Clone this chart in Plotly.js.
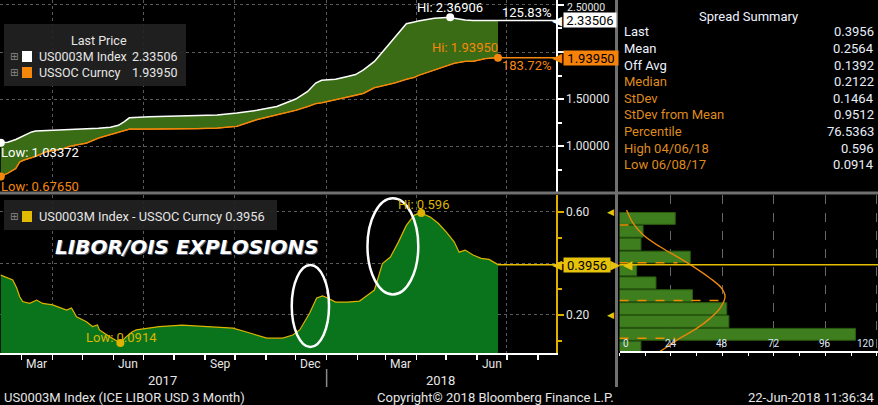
<!DOCTYPE html>
<html><head><meta charset="utf-8">
<script src="https://cdn.plot.ly/plotly-3.0.1.min.js"></script>
<style>html,body{margin:0;padding:0;background:#000;}#chart{width:878px;height:405px;}</style>
</head><body><div id="chart"></div>
<script>
// ---------- data ----------
const topDates = ['2017-02-08','2017-02-15','2017-02-23','2017-02-27','2017-03-03','2017-03-11','2017-03-15','2017-03-26','2017-04-11','2017-04-19','2017-05-05','2017-05-17','2017-05-29','2017-06-06','2017-06-12','2017-06-17','2017-07-07','2017-08-04','2017-08-24','2017-09-13','2017-10-03','2017-10-23','2017-11-12','2017-12-01','2017-12-13','2017-12-21','2017-12-27','2018-01-10','2018-01-22','2018-01-30','2018-02-07','2018-02-18','2018-02-22','2018-03-06','2018-03-10','2018-03-22','2018-03-30','2018-04-03','2018-04-19','2018-05-05','2018-05-09','2018-05-20','2018-05-28','2018-06-05','2018-06-09','2018-06-22'];
const liborVals = [1.03372,1.04,1.07,1.09,1.117,1.15,1.16,1.165,1.17,1.175,1.185,1.19,1.20,1.22,1.26,1.30,1.31,1.32,1.325,1.33,1.35,1.38,1.42,1.50,1.58,1.67,1.70,1.71,1.74,1.76,1.81,1.90,1.95,2.10,2.16,2.30,2.32,2.33,2.36,2.36906,2.36,2.34,2.335,2.33,2.335,2.33506];
const oisVals = [0.6765,0.71,0.76,0.83,0.85,0.88,0.89,0.94,0.97,1.0,1.03,1.085,1.12,1.15,1.165,1.18,1.18,1.18,1.185,1.19,1.21,1.28,1.33,1.38,1.42,1.45,1.46,1.49,1.52,1.54,1.56,1.62,1.63,1.66,1.67,1.71,1.73,1.75,1.81,1.87,1.88,1.90,1.90,1.92,1.93,1.9395];

const spreadDates = ['2017-02-08','2017-02-14','2017-02-20','2017-02-24','2017-02-27','2017-03-02','2017-03-09','2017-03-16','2017-03-22','2017-04-01','2017-04-15','2017-04-20','2017-04-25','2017-05-05','2017-05-11','2017-05-16','2017-05-18','2017-05-28','2017-06-08','2017-06-14','2017-06-20','2017-06-24','2017-07-17','2017-08-09','2017-09-02','2017-09-29','2017-10-16','2017-11-02','2017-11-18','2017-11-28','2017-12-05','2017-12-15','2017-12-22','2017-12-28','2018-01-02','2018-01-10','2018-01-22','2018-02-03','2018-02-11','2018-02-18','2018-02-26','2018-03-06','2018-03-14','2018-03-22','2018-03-30','2018-04-06','2018-04-15','2018-04-23','2018-05-01','2018-05-09','2018-05-14','2018-05-20','2018-05-28','2018-06-05','2018-06-13','2018-06-22'];
const spreadVals = [0.355,0.346,0.336,0.305,0.271,0.252,0.245,0.258,0.245,0.239,0.219,0.227,0.193,0.174,0.155,0.161,0.142,0.116,0.0914,0.116,0.135,0.142,0.155,0.161,0.155,0.149,0.13,0.11,0.11,0.122,0.142,0.208,0.266,0.274,0.266,0.25,0.25,0.254,0.277,0.297,0.40,0.425,0.483,0.548,0.588,0.596,0.58,0.556,0.523,0.484,0.444,0.452,0.433,0.42,0.416,0.3956];

const histCenters = [0.575,0.525,0.475,0.425,0.375,0.325,0.275,0.225,0.175,0.125,0.075];
const histCounts  = [26,11,10,33,8,17,34,50,51,110,10];
const histTicks   = [0,24,48,72,96,120];
const curveVals   = [0.608,0.556,0.511,0.465,0.420,0.388,0.343,0.304,0.271,0.226,0.187,0.148,0.110,0.071,0.057];
const curveCounts = [3.3,6.4,11.1,18.9,28.2,34.4,42.2,47.6,49.2,46.8,42.2,36.0,28.2,21.2,18.5];
const statLevels  = [0.5492,0.4028,0.2564,0.1100];
const statLens    = [6,27,49,26];

const summaryLabels = ['Last','Mean','Off Avg','Median','StDev','StDev from Mean','Percentile','High 04/06/18','Low 06/08/17'];
const summaryValues = ['0.3956','0.2564','0.1392','0.2122','0.1464','0.9512','76.5363','0.596','0.0914'];

const monthLabels = ['Mar','Jun','Sep','Dec','Mar','Jun'];
const monthLabelDates = ['2017-03-16','2017-06-16','2017-09-16','2017-12-16','2018-03-16','2018-06-16'];
const yearLabels = ['2017','2018'];
const yearLabelDates = ['2017-07-20','2018-04-25'];
const pctLabels = ['125.83%','183.72%'];

// ---------- helpers ----------
const W = 878, H = 405;
const px = v => v / W;
const py = v => 1 - v / H;
const last = a => a[a.length - 1];
const argmax = a => a.indexOf(Math.max(...a));
const argmin = a => a.indexOf(Math.min(...a));

const WHITE = '#ffffff', ORANGE = '#f5870c', YELLOW = '#dcb400', TXT = '#e6e6e6';
const FONT = 'Roboto, "Liberation Sans", sans-serif';
const xRange = ['2017-02-07 05:00', '2018-08-19 05:00'];

const liMax = argmax(liborVals), liMin = argmin(liborVals);
const oiMax = argmax(oisVals), oiMin = argmin(oisVals);
const spMax = argmax(spreadVals), spMin = argmin(spreadVals);

const traces = [
  {x: topDates, y: oisVals, type: 'scatter', mode: 'lines', line: {color: ORANGE, width: 1.2}, xaxis: 'x', yaxis: 'y'},
  {x: topDates, y: liborVals, type: 'scatter', mode: 'lines', fill: 'tonexty', fillcolor: '#3a6c15', line: {color: WHITE, width: 1.5}, xaxis: 'x', yaxis: 'y'},
  {x: topDates, y: oisVals, type: 'scatter', mode: 'lines', line: {color: ORANGE, width: 1.3}, xaxis: 'x', yaxis: 'y'},
  {x: [topDates[liMin], topDates[liMax]], y: [liborVals[liMin], liborVals[liMax]], type: 'scatter', mode: 'markers', marker: {color: WHITE, size: 8}, xaxis: 'x', yaxis: 'y'},
  {x: [topDates[oiMin], topDates[oiMax]], y: [oisVals[oiMin], oisVals[oiMax]], type: 'scatter', mode: 'markers', marker: {color: ORANGE, size: 8}, xaxis: 'x', yaxis: 'y'},
  {x: spreadDates, y: spreadVals, type: 'scatter', mode: 'lines', fill: 'tozeroy', fillcolor: '#0a741c', line: {color: YELLOW, width: 1.2}, xaxis: 'x2', yaxis: 'y2'},
  {x: [spreadDates[spMin], spreadDates[spMax]], y: [spreadVals[spMin], spreadVals[spMax]], type: 'scatter', mode: 'markers', marker: {color: YELLOW, size: 8}, xaxis: 'x2', yaxis: 'y2'},
  {x: histCounts, y: histCenters, type: 'bar', orientation: 'h', width: 0.046, marker: {color: '#3e7e1e', line: {color: '#2a5c10', width: 1}}, xaxis: 'x3', yaxis: 'y3'},
  {x: curveCounts, y: curveVals, type: 'scatter', mode: 'lines', line: {color: '#e8860c', width: 1.4, shape: 'spline'}, xaxis: 'x3', yaxis: 'y3'}
];
statLevels.forEach((lv, i) => traces.push({x: [0, statLens[i]], y: [lv, lv], type: 'scatter', mode: 'lines', line: {color: '#f08c00', width: 1.5, dash: 'dash'}, xaxis: 'x3', yaxis: 'y3'}));

const gridCol = '#5a5a5a';
const layout = {
  width: W, height: H, margin: {l: 0, r: 0, t: 0, b: 0},
  paper_bgcolor: '#000', plot_bgcolor: '#000', showlegend: false, hovermode: false,
  font: {family: FONT, color: TXT, size: 12},
  xaxis: {domain: [0, px(556)], range: xRange, type: 'date', anchor: 'y', showticklabels: false, ticks: '',
          tickmode: 'linear', tick0: '2017-01-01', dtick: 'M3', showgrid: true, gridcolor: gridCol, griddash: 'dot', zeroline: false, showline: false},
  yaxis: {domain: [py(192), 1], range: [0.511, 2.553], side: 'right', anchor: 'x', showline: true, linecolor: WHITE, linewidth: 1.5,
          tickmode: 'array', tickvals: [1, 1.5, 2, 2.5], ticktext: ['1.00000', '1.50000', '', ''],
          ticks: 'outside', ticklen: 6, tickwidth: 2, tickcolor: WHITE, tickfont: {size: 12, color: TXT},
          minor: {tickmode: 'linear', tick0: 0, dtick: 0.25, ticks: 'outside', ticklen: 4, tickcolor: WHITE, showgrid: false},
          showgrid: true, gridcolor: gridCol, griddash: 'dot', zeroline: false},
  xaxis2: {domain: [0, px(556)], range: xRange, type: 'date', anchor: 'y2', showticklabels: false,
           tickmode: 'linear', tick0: '2017-01-01', dtick: 'M3', ticks: 'outside', ticklen: 5, tickcolor: WHITE, tickwidth: 1.5,
           minor: {tickmode: 'linear', tick0: '2017-01-01', dtick: 'M1', ticks: 'outside', ticklen: 5, tickcolor: WHITE, showgrid: false},
           showline: true, linecolor: WHITE, linewidth: 2, showgrid: true, gridcolor: gridCol, griddash: 'dot', zeroline: false},
  yaxis2: {domain: [py(353), py(195)], range: [0.0524, 0.666], side: 'right', anchor: 'x2', showline: true, linecolor: '#e0b000', linewidth: 1.5,
           tickmode: 'array', tickvals: [0.2, 0.4, 0.6], ticktext: ['0.20', '', '0.60'],
           ticks: 'outside', ticklen: 6, tickwidth: 2, tickcolor: '#e0b000', tickfont: {size: 12, color: TXT},
           minor: {tickmode: 'linear', tick0: 0, dtick: 0.1, ticks: 'outside', ticklen: 4, tickcolor: '#e0b000', showgrid: false},
           showgrid: true, gridcolor: gridCol, griddash: 'dot', zeroline: false},
  xaxis3: {domain: [px(619.5), 1], range: [0, 120.5], anchor: 'y3', showline: true, linecolor: WHITE, linewidth: 1.5,
           tickmode: 'array', tickvals: histTicks, ticks: '', showticklabels: false,
           minor: {tickmode: 'linear', tick0: 0, dtick: 12, ticks: 'outside', ticklen: 3, tickcolor: WHITE, showgrid: false},
           showgrid: true, gridcolor: '#666', griddash: 'dash', zeroline: false},
  yaxis3: {domain: [py(351), py(195)], range: [0.0602, 0.666], anchor: 'x3', visible: false},
  shapes: [], annotations: []
};

const S = layout.shapes, A = layout.annotations;
// panel dividers
S.push({type: 'line', xref: 'paper', yref: 'paper', x0: 0, x1: 1, y0: py(193), y1: py(193), line: {color: '#707070', width: 3}});
S.push({type: 'line', xref: 'paper', yref: 'paper', x0: px(616.5), x1: px(616.5), y0: py(387), y1: 1, line: {color: '#707070', width: 3}});
// year divider
S.push({type: 'line', xref: 'x2', yref: 'paper', x0: '2018-01-01', x1: '2018-01-01', y0: py(369), y1: py(387), line: {color: '#8a8a8a', width: 1.5}});
// last value level lines
S.push({type: 'line', xref: 'x', yref: 'y', x0: last(topDates), x1: xRange[1], y0: last(liborVals), y1: last(liborVals), line: {color: WHITE, width: 1.5}});
S.push({type: 'line', xref: 'x', yref: 'y', x0: last(topDates), x1: xRange[1], y0: last(oisVals), y1: last(oisVals), line: {color: ORANGE, width: 1.5}});
S.push({type: 'line', xref: 'x2', yref: 'y2', x0: last(spreadDates), x1: xRange[1], y0: last(spreadVals), y1: last(spreadVals), line: {color: '#e6bc00', width: 1.5}});
S.push({type: 'line', xref: 'x3 domain', yref: 'y3', x0: 0, x1: 1, y0: last(spreadVals), y1: last(spreadVals), line: {color: '#e6bc00', width: 1.5}});
// ellipses
S.push({type: 'circle', xref: 'x2', yref: 'y2', x0: '2017-11-27', x1: '2018-01-03 10:00', y0: 0.076, y1: 0.394, line: {color: WHITE, width: 2.5}});
S.push({type: 'circle', xref: 'x2', yref: 'y2', x0: '2018-02-11', x1: '2018-04-03', y0: 0.280, y1: 0.653, line: {color: WHITE, width: 2.5}});
// legend boxes
S.push({type: 'rect', xref: 'paper', yref: 'paper', x0: px(4), x1: px(186), y0: py(86), y1: py(24), fillcolor: 'rgba(34,34,34,0.92)', line: {width: 0}, layer: 'above'});
S.push({type: 'rect', xref: 'paper', yref: 'paper', x0: px(4), x1: px(277), y0: py(230), y1: py(200), fillcolor: 'rgba(34,34,34,0.92)', line: {width: 0}, layer: 'above'});
S.push({type: 'rect', xref: 'paper', yref: 'paper', x0: px(22), x1: px(32), y0: py(62), y1: py(51), fillcolor: WHITE, line: {width: 0}});
S.push({type: 'rect', xref: 'paper', yref: 'paper', x0: px(22), x1: px(32), y0: py(78), y1: py(67), fillcolor: ORANGE, line: {width: 0}});
S.push({type: 'rect', xref: 'paper', yref: 'paper', x0: px(22), x1: px(32), y0: py(222), y1: py(211), fillcolor: '#e2bc00', line: {width: 0}});

const ann = (o) => A.push(Object.assign({showarrow: false, font: {family: FONT, size: 13, color: TXT}}, o));
const P = (x, y, text, xa, color, size, extra) => ann(Object.assign({xref: 'paper', yref: 'paper', x: px(x), y: py(y), text, xanchor: xa, yanchor: 'middle', font: {family: FONT, size: size || 13, color: color || TXT}}, extra || {}));
const BOXG = {family: 'DejaVu Sans', size: 10, color: '#8a8a8a'};

// top legend
P(99, 40, 'Last Price', 'center', TXT, 12.5);
P(14, 56, '⊞', 'center', '#8a8a8a', 10, {font: BOXG});
P(14, 72, '⊞', 'center', '#8a8a8a', 10, {font: BOXG});
P(37, 56, 'US0003M Index', 'left', TXT, 12.5);
P(179, 56, last(liborVals).toFixed(5), 'right', TXT, 12.5);
P(37, 72, 'USSOC Curncy', 'left', TXT, 12.5);
P(179, 72, last(oisVals).toFixed(5), 'right', TXT, 12.5);
// bottom legend
P(14, 216, '⊞', 'center', '#8a8a8a', 10, {font: BOXG});
P(37, 216, 'US0003M Index - USSOC Curncy ' + last(spreadVals).toFixed(4), 'left', TXT, 12.8);
// big label
ann({xref: 'paper', yref: 'paper', x: px(187), y: py(247), xanchor: 'center', yanchor: 'middle', text: 'LIBOR/OIS EXPLOSIONS',
     font: {family: 'DejaVu Sans', size: 20, color: WHITE, weight: 'bold', style: 'italic', shadow: '1px 1px 0px #55627a'}});

// hi/low labels
ann({xref: 'x', yref: 'y', x: topDates[liMin], y: liborVals[liMin], text: 'Low: ' + liborVals[liMin].toFixed(5), xanchor: 'left', yanchor: 'middle', yshift: -10, xshift: -2, font: {family: FONT, size: 13, color: WHITE}});
ann({xref: 'x', yref: 'y', x: topDates[oiMin], y: oisVals[oiMin], text: 'Low: ' + oisVals[oiMin].toFixed(5), xanchor: 'left', yanchor: 'middle', yshift: -10, xshift: -2, font: {family: FONT, size: 13, color: ORANGE}});
ann({xref: 'x', yref: 'y', x: topDates[liMax], y: liborVals[liMax], text: 'Hi: ' + liborVals[liMax].toFixed(5), xanchor: 'center', yanchor: 'middle', yshift: 10, font: {family: FONT, size: 13, color: WHITE}});
ann({xref: 'x', yref: 'y', x: topDates[oiMax], y: oisVals[oiMax], text: 'Hi: ' + oisVals[oiMax].toFixed(5), xanchor: 'right', yanchor: 'middle', yshift: 10, xshift: 2, font: {family: FONT, size: 13, color: ORANGE}});
ann({xref: 'x2', yref: 'y2', x: spreadDates[spMax], y: spreadVals[spMax], text: 'Hi: ' + spreadVals[spMax], xanchor: 'center', yanchor: 'middle', yshift: 9, xshift: 2, font: {family: FONT, size: 13, color: YELLOW}});
ann({xref: 'x2', yref: 'y2', x: spreadDates[spMin], y: spreadVals[spMin], text: 'Low: ' + spreadVals[spMin], xanchor: 'center', yanchor: 'middle', yshift: 5, xshift: 1, font: {family: FONT, size: 13, color: YELLOW}});

// percent labels
ann({xref: 'paper', yref: 'y', x: px(553), y: last(liborVals), text: pctLabels[0], xanchor: 'right', yanchor: 'middle', yshift: 8, font: {family: FONT, size: 13, color: WHITE}});
ann({xref: 'paper', yref: 'y', x: px(553), y: last(oisVals), text: pctLabels[1], xanchor: 'right', yanchor: 'middle', yshift: -8, font: {family: FONT, size: 13, color: ORANGE}});

// top tick label near the upper edge (kept inside the picture, clear of the tag)
ann({xref: 'paper', yref: 'paper', x: px(566), y: 1, text: '2.50000', xanchor: 'left', yanchor: 'top', borderpad: 0, font: {family: FONT, size: 10.5, color: TXT}});

// value tags on the axes
const tag = (yref, val, txt, bg, w) => {
  ann({xref: 'paper', yref, x: px(563), y: val, text: txt, xanchor: 'left', yanchor: 'middle', bgcolor: bg, width: w, height: 14, borderpad: 0, font: {family: FONT, size: 13, color: '#000'}});
  ann({xref: 'paper', yref, x: px(564), y: val, text: '◀', xanchor: 'right', yanchor: 'middle', font: {family: 'DejaVu Sans', size: 13, color: bg}});
};
tag('y', last(liborVals), last(liborVals).toFixed(5), '#ffffff', 52);
tag('y', last(oisVals), last(oisVals).toFixed(5), '#f7820a', 54);
tag('y2', last(spreadVals), last(spreadVals).toFixed(4), '#e6c20a', 46);
ann({xref: 'paper', yref: 'y2', x: px(608), y: last(spreadVals), text: '▶', xanchor: 'left', yanchor: 'middle', font: {family: 'DejaVu Sans', size: 13, color: '#e6c20a'}});
// histogram markers
ann({xref: 'x3 domain', yref: 'y3', x: 0, y: last(spreadVals), text: '◀', xanchor: 'left', yanchor: 'middle', xshift: 1, font: {family: 'DejaVu Sans', size: 12, color: '#e6c20a'}});
[0.2, 0.6].forEach(v => ann({xref: 'x3 domain', yref: 'y2', x: 0, y: v, text: '◀', xanchor: 'right', yanchor: 'middle', xshift: -4, font: {family: 'DejaVu Sans', size: 9, color: '#e6c20a'}}));
// histogram count labels (inside, above the axis)
histTicks.forEach((t, i) => ann({xref: 'x3', yref: 'paper', x: t, y: py(343), text: String(t),
  xanchor: i === 0 ? 'left' : (i === histTicks.length - 1 ? 'right' : 'center'), xshift: i === 0 ? 1 : (i === histTicks.length - 1 ? -1 : 0),
  yanchor: 'middle', font: {family: FONT, size: 10, color: '#dde8ff'}}));

// x axis labels
monthLabels.forEach((m, i) => ann({xref: 'x2', yref: 'paper', x: monthLabelDates[i], y: py(364), text: m, xanchor: 'center', yanchor: 'middle', font: {family: FONT, size: 12, color: TXT}}));
yearLabels.forEach((m, i) => ann({xref: 'x2', yref: 'paper', x: yearLabelDates[i], y: py(380), text: m, xanchor: 'center', yanchor: 'middle', font: {family: FONT, size: 13, color: TXT}}));

// spread summary
P(748, 16, 'Spread Summary', 'center', '#eef2ff');
summaryLabels.forEach((lab, i) => {
  const y = 31.7 + i * 16.65;
  P(622, y, lab, 'left', i < 3 ? '#eef2ff' : '#df8a1c');
  P(876, y, summaryValues[i], 'right', '#e8eef8');
});

// footer
P(2, 397, 'US0003M Index (ICE LIBOR USD 3 Month)', 'left');
P(375, 397, 'Copyright© 2018 Bloomberg Finance L.P.', 'left');
P(877, 397, '22-Jun-2018 11:36:34', 'right');

Plotly.newPlot('chart', traces, layout, {staticPlot: true, displayModeBar: false});
</script></body></html>
